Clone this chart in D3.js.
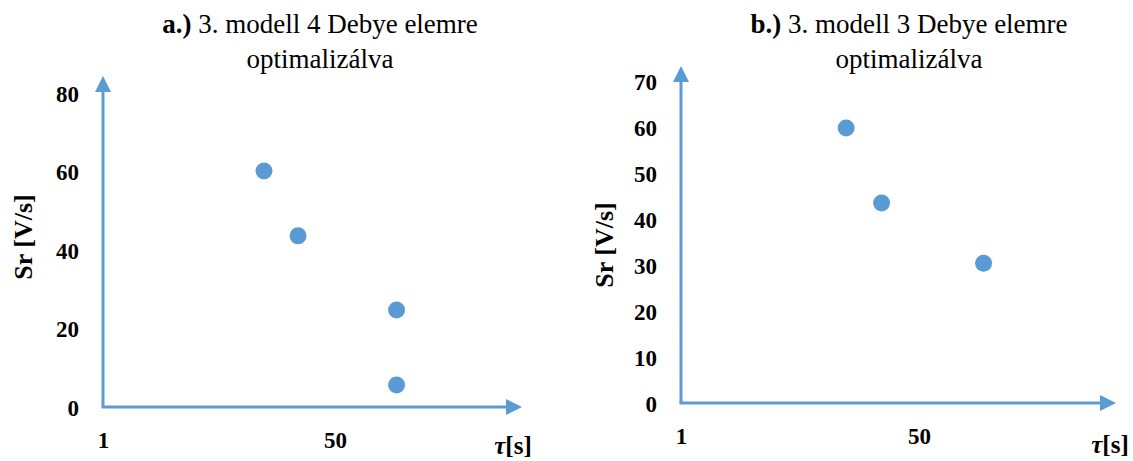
<!DOCTYPE html>
<html>
<head>
<meta charset="utf-8">
<script src="https://cdn.jsdelivr.net/npm/d3@7"></script>
<style>
  body { margin: 0; background: #fff; }
  text { font-family: "Liberation Serif", "DejaVu Serif", serif; fill: #000; }
</style>
</head>
<body>
<script>
// data
var tauA = [35, 42.2, 63, 63],
    srA  = [60.1, 43.6, 24.7, 5.6];
var tauB = [35, 42.3, 63.3],
    srB  = [59.8, 43.5, 30.4];
var yTicksA = [0, 20, 40, 60, 80],
    yTicksB = [0, 10, 20, 30, 40, 50, 60, 70],
    xTicks  = [1, 50];
var titlesA = ["a.)", " 3. modell 4 Debye elemre", "optimalizálva"],
    titlesB = ["b.)", " 3. modell 3 Debye elemre", "optimalizálva"];

var blue = "#5b9bd5";
var svg = d3.select("body").append("svg").attr("width", 1133).attr("height", 461);

function panel(o) {
  var x = d3.scaleLinear().domain([1, 50]).range([o.left, o.left + o.x50]);
  var y = d3.scaleLinear().domain([0, o.ymax]).range([o.bottom, o.top]);
  var g = svg.append("g");

  // title
  var t = g.append("text").attr("x", o.tx).attr("y", 33).attr("text-anchor", "middle").style("font-size", "27px");
  t.append("tspan").style("font-weight", "bold").text(o.titles[0]);
  t.append("tspan").text(o.titles[1]);
  g.append("text").attr("x", o.tx).attr("y", 68).attr("text-anchor", "middle")
    .style("font-size", "27px").text(o.titles[2]);

  // axes lines with arrows
  var x0 = x(1), y0 = y(0);
  g.append("line").attr("x1", x0).attr("y1", y0).attr("x2", x0).attr("y2", o.ytip + 14)
    .attr("stroke", blue).attr("stroke-width", 3);
  g.append("path").attr("d", "M" + x0 + "," + o.ytip + "L" + (x0 - 8) + "," + (o.ytip + 16) + "L" + (x0 + 8) + "," + (o.ytip + 16) + "Z")
    .attr("fill", blue);
  g.append("line").attr("x1", x0 - 1.5).attr("y1", y0).attr("x2", o.xtip - 14).attr("y2", y0)
    .attr("stroke", blue).attr("stroke-width", 3);
  g.append("path").attr("d", "M" + o.xtip + "," + y0 + "L" + (o.xtip - 16) + "," + (y0 - 8) + "L" + (o.xtip - 16) + "," + (y0 + 8) + "Z")
    .attr("fill", blue);

  // tick labels
  var yAxis = d3.axisLeft(y).tickValues(o.yTicks).tickSize(0).tickPadding(24);
  var ya = g.append("g").attr("transform", "translate(" + x0 + ",0)").call(yAxis);
  ya.select(".domain").remove();
  ya.selectAll("text").style("font-size", "23px").style("font-weight", "bold")
    .style("font-family", "Liberation Serif, serif").attr("dy", "0.35em");

  var xAxis = d3.axisBottom(x).tickValues(xTicks).tickSize(0).tickPadding(25);
  var xa = g.append("g").attr("transform", "translate(0," + y0 + ")").call(xAxis);
  xa.select(".domain").remove();
  xa.selectAll("text").style("font-size", "23px").style("font-weight", "bold")
    .style("font-family", "Liberation Serif, serif");

  // axis titles
  g.append("text").attr("transform", "translate(" + o.ylx + "," + o.yly + ") rotate(-90)")
    .attr("text-anchor", "middle").attr("dy", "0.35em")
    .style("font-size", "26px").style("font-weight", "bold").text("Sr [V/s]");
  var xl = g.append("text").attr("x", o.xlx).attr("y", o.xly).attr("text-anchor", "middle")
    .style("font-size", "25px").style("font-weight", "bold");
  xl.append("tspan").style("font-style", "italic").text("τ");
  xl.append("tspan").text("[s]");

  // points
  g.selectAll("circle").data(o.tau).enter().append("circle")
    .attr("cx", function(d) { return x(d); })
    .attr("cy", function(d, i) { return y(o.sr[i]); })
    .attr("r", 8.5).attr("fill", blue);
}

panel({ left: 103, x50: 232, bottom: 407, top: 93, ymax: 80, ytip: 76, xtip: 522,
        yTicks: yTicksA, titles: titlesA, tau: tauA, sr: srA,
        tx: 320, ylx: 23, yly: 237, xlx: 513, xly: 454 });
panel({ left: 681, x50: 238, bottom: 403, top: 81, ymax: 70, ytip: 66, xtip: 1116,
        yTicks: yTicksB, titles: titlesB, tau: tauB, sr: srB,
        tx: 909, ylx: 604, yly: 245, xlx: 1110, xly: 453 });
</script>
</body>
</html>
